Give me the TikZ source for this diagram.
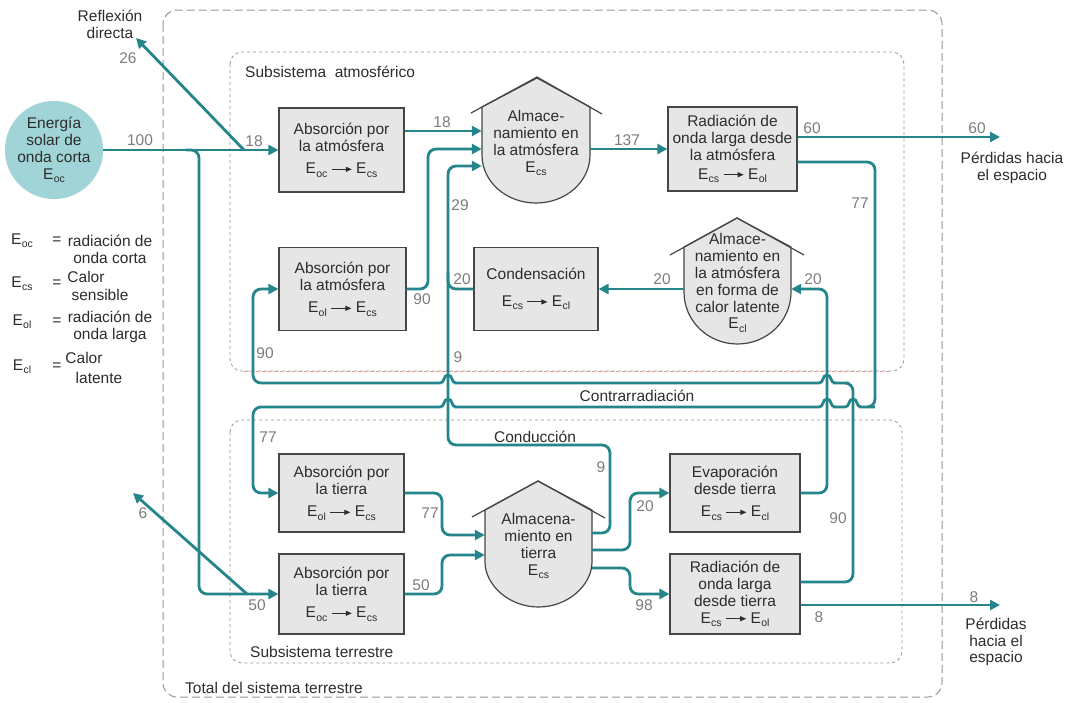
\documentclass[tikz,border=0pt]{standalone}
\usepackage{fontspec}
\setmainfont{Liberation Sans}
\usetikzlibrary{arrows.meta,calc}
\definecolor{flowc}{RGB}{36,133,138}
\definecolor{sunc}{RGB}{160,212,214}
\definecolor{boxf}{RGB}{230,230,230}
\definecolor{boxl}{RGB}{70,70,70}
\definecolor{txtc}{RGB}{45,45,45}
\definecolor{numc}{RGB}{125,125,125}
\definecolor{dashc}{RGB}{150,150,150}
\definecolor{pinkc}{RGB}{225,150,150}
\newcommand\Enr[1]{E\kern0.3pt\raisebox{-0.4ex}{\fontsize{10.5}{11}\selectfont #1}}
\newcommand\flar{\hspace{4pt}\tikz[baseline=-4.5pt,x=1pt,y=1pt]\draw[draw=txtc,line width=0.9pt,-{Triangle[length=6pt,width=5pt]}] (0,0) -- (20,0);\hspace{4pt}}
\newcommand\hopL[2]{-- (#1+14,#2) [sharp corners] -- (#1+8,#2) .. controls (#1+3,#2) and (#1+5,#2-8) .. (#1,#2-8) .. controls (#1-5,#2-8) and (#1-3,#2) .. (#1-8,#2) -- (#1-14,#2) [rounded corners=8pt]}
\begin{document}
\begin{tikzpicture}[x=1pt,y=-1pt,
  txt/.style={font=\fontsize{15.5}{16.8}\selectfont,text=txtc},
  lbl/.style={txt,inner sep=0pt},
  num/.style={font=\fontsize{15.5}{16.8}\selectfont,text=numc,inner sep=0pt},
  box/.style={txt,draw=boxl,fill=boxf,line width=1.2pt,align=center,inner sep=0pt},
  htext/.style={txt,align=center,inner sep=0pt},
  house/.style={draw=boxl,fill=boxf,line width=1.2pt,line join=round},
  flow/.style={draw=flowc,line width=2.8pt,rounded corners=8pt},
  arr/.style={-{Triangle[length=10pt,width=10pt]}},
  bigbox/.style={draw=dashc,line width=1pt,dash pattern=on 8pt off 4pt,rounded corners=14pt},
  subbox/.style={draw=dashc,line width=0.8pt,dash pattern=on 3pt off 3pt,rounded corners=12pt}]
\useasboundingbox (0,0) rectangle (1068,702);
\fill[white] (0,0) rectangle (1068,702);

% system frames
\draw[bigbox] (163,10) rectangle (942,697);
\draw[subbox] (230,52) rectangle (904,371);
\draw[subbox,draw=pinkc,rounded corners=0pt] (244,371) -- (890,371);
\draw[subbox] (230,420) rectangle (902,663);

% house shapes
\draw[house] (482,107) -- (482,155) .. controls (482,181.5) and (506,203) .. (536,203) .. controls (566,203) and (590,181.5) .. (590,155) -- (590,107) -- (537,78) -- cycle;
\draw[house,fill=none] (471,113) -- (537,77) -- (602,114);
\draw[house] (684,247) -- (684,292) .. controls (684,321) and (708,344) .. (737.5,344) .. controls (767,344) and (791,321) .. (791,292) -- (791,247) -- (737,218) -- cycle;
\draw[house,fill=none] (670,255) -- (737,218) -- (804,255);
\draw[house] (485,510) -- (485,562) .. controls (485,585) and (509,607) .. (538.5,607) .. controls (568,607) and (592,585) .. (592,562) -- (592,510) -- (538,481) -- cycle;
\draw[house,fill=none] (472,517) -- (538,481) -- (605,518);

% nodes
\node[circle,fill=sunc,minimum size=96pt,inner sep=0pt,txt,align=center] (sun) at (54,150) {Energía\\solar de\\onda corta\\\Enr{oc}};
\node[box,minimum width=125pt,minimum height=84pt] (a1) at (341.5,150) {Absorción por\\la atmósfera\\[6pt]\Enr{oc}\flar\Enr{cs}};
\node[box,minimum width=127pt,minimum height=83pt] (a2) at (342.5,289) {Absorción por\\la atmósfera\\[6pt]\Enr{ol}\flar\Enr{cs}};
\node[box,minimum width=124pt,minimum height=83pt] (cond) at (536,289) {Condensación\\[10pt]\Enr{cs}\flar\Enr{cl}};
\node[box,minimum width=129pt,minimum height=84pt] (a3) at (732.5,149) {Radiación de\\onda larga desde\\la atmósfera\\[2pt]\Enr{cs}\flar\Enr{ol}};
\node[box,minimum width=125pt,minimum height=78pt] (t1) at (341.5,493) {Absorción por\\la tierra\\[6pt]\Enr{ol}\flar\Enr{cs}};
\node[box,minimum width=125pt,minimum height=80pt] (t2) at (341.5,594) {Absorción por\\la tierra\\[6pt]\Enr{oc}\flar\Enr{cs}};
\node[box,minimum width=130pt,minimum height=78pt] (t3) at (735,493) {Evaporación\\desde tierra\\[6pt]\Enr{cs}\flar\Enr{cl}};
\node[box,minimum width=130pt,minimum height=80pt] (t4) at (735,594) {Radiación de\\onda larga\\desde tierra\\\Enr{cs}\flar\Enr{ol}};
\node[htext,minimum width=108pt] (sa) at (536,143) {Almace-\\namiento en\\la atmósfera\\\Enr{cs}};
\node[htext,minimum width=107pt] (sl) at (737.5,283) {Almace-\\namiento en\\la atmósfera\\en forma de\\calor latente\\\Enr{cl}};
\node[htext,minimum width=107pt] (sg) at (538.5,546) {Almacena-\\miento en\\tierra\\\Enr{cs}};

% free ends
\coordinate (br) at (186,150);
\coordinate (r26a) at (244,150);
\coordinate (r26b) at (136,38);
\coordinate (r6a) at (247,594);
\coordinate (r6b) at (133,493);
\coordinate (sp1) at (1000,137);
\coordinate (sp2) at (1000,605);
\coordinate (a1o) at ($(a1.east)+(0,-19)$);

% connectors
\draw[flow,arr] (sun.east) -- (a1.west);
\draw[flow,arr] (br) -- (199,150) -- (199,594) -- (t2.west);
\draw[flow,arr] (r26a) -- (r26b);
\draw[flow,arr] (r6a) -- (r6b);
\draw[flow,arr] (a1o) -- (a1o -| sa.west);
\draw[flow,arr] (a2.east) -- (428,289) -- (428,149) -- (sa.west |- 0,149);
\draw[flow,arr] (sg.east |- 0,533) -- (610,533) -- (610,445) -- (448,445) -- (448,166) -- (sa.west |- 0,166);
\draw[flow] (cond.west) -- (448,289) -- (448,272);
\draw[flow,arr] (sa.east |- a3.west) -- (a3.west);
\draw[flow,arr] (a3.east |- sp1) -- (sp1);
\draw[flow,arr] (a3.east |- 0,162) -- (875,162) -- (875,407) \hopL{853}{407} \hopL{827}{407} \hopL{448}{407} -- (253,407) -- (253,493) -- (t1.west);
\draw[flow,arr] (t4.east |- 0,582) -- (853,582) -- (853,383) \hopL{827}{383} \hopL{448}{383} -- (253,383) -- (253,289) -- (a2.west);
\draw[flow,arr] (t3.east) -- (827,493) -- (827,289) -- (sl.east |- 0,289);
\draw[flow,arr] (sl.west |- cond.east) -- (cond.east);
\draw[flow,arr] (t1.east) -- (442,493) -- (442,535) -- (sg.west |- 0,535);
\draw[flow,arr] (t2.east) -- (442,594) -- (442,555) -- (sg.west |- 0,555);
\draw[flow,arr] (sg.east |- 0,550) -- (630,550) -- (630,493) -- (t3.west);
\draw[flow,arr] (sg.east |- 0,568) -- (630,568) -- (630,594) -- (t4.west);
\draw[flow,arr] (t4.east |- sp2) -- (sp2);

% titles and texts
\node[lbl,anchor=west] (tatm) at (245,72) {Subsistema\ \ atmosférico};
\node[lbl,anchor=west] (tter) at (250,652) {Subsistema terrestre};
\node[lbl,anchor=west] (ttot) at (185,688) {Total del sistema terrestre};
\node[lbl,align=center] (trefl) at (110,24) {Reflexión\\directa};
\node[lbl,align=center] (tsp1) at (1012,168) {Pérdidas hacia\\el espacio};
\node[lbl,align=center] (tsp2) at (996,642) {Pérdidas\\hacia el\\espacio};
\node[lbl] (tcontra) at (637,396) {Contrarradiación};
\node[lbl] (tcond) at (535,437) {Conducción};

% legend
\node[lbl] (le1) at (22,241) {\Enr{oc}};
\node[lbl] (eq1) at (57,241) {=};
\node[lbl,align=center] (lt1) at (110,249) {radiación de\\onda corta};
\node[lbl] (le2) at (22,284) {\Enr{cs}};
\node[lbl] (eq2) at (57,284) {=};
\node[lbl] (lt2a) at (86,277) {Calor};
\node[lbl] (lt2b) at (100,295) {sensible};
\node[lbl] (le3) at (22,322) {\Enr{ol}};
\node[lbl] (eq3) at (57,322) {=};
\node[lbl,align=center] (lt3) at (110,327) {radiación de\\onda larga};
\node[lbl] (le4) at (22,367) {\Enr{cl}};
\node[lbl] (eq4) at (57,367) {=};
\node[lbl] (lt4a) at (84,358) {Calor};
\node[lbl] (lt4b) at (99,378) {latente};

% numbers
\node[num] (n100) at (140,140) {100};
\node[num] (n18a) at (254,141) {18};
\node[num] (n26) at (128,58) {26};
\node[num] (n18b) at (442,122) {18};
\node[num] (n90a) at (422,299) {90};
\node[num] (n29) at (460,205) {29};
\node[num] (n20a) at (462,279) {20};
\node[num] (n137) at (627,140) {137};
\node[num] (n60a) at (812,128) {60};
\node[num] (n60b) at (977,128) {60};
\node[num] (n77a) at (860,203) {77};
\node[num] (n20b) at (662,279) {20};
\node[num] (n20c) at (813,279) {20};
\node[num] (n90b) at (265,353) {90};
\node[num] (n9a) at (458,357) {9};
\node[num] (n77b) at (268,437) {77};
\node[num] (n9b) at (601,467) {9};
\node[num] (n77c) at (430,513) {77};
\node[num] (n50a) at (421,585) {50};
\node[num] (n50b) at (257,605) {50};
\node[num] (n6) at (143,513) {6};
\node[num] (n20d) at (645,506) {20};
\node[num] (n98) at (644,605) {98};
\node[num] (n90c) at (838,518) {90};
\node[num] (n8a) at (819,617) {8};
\node[num] (n8b) at (974,597) {8};
\end{tikzpicture}
\end{document}
